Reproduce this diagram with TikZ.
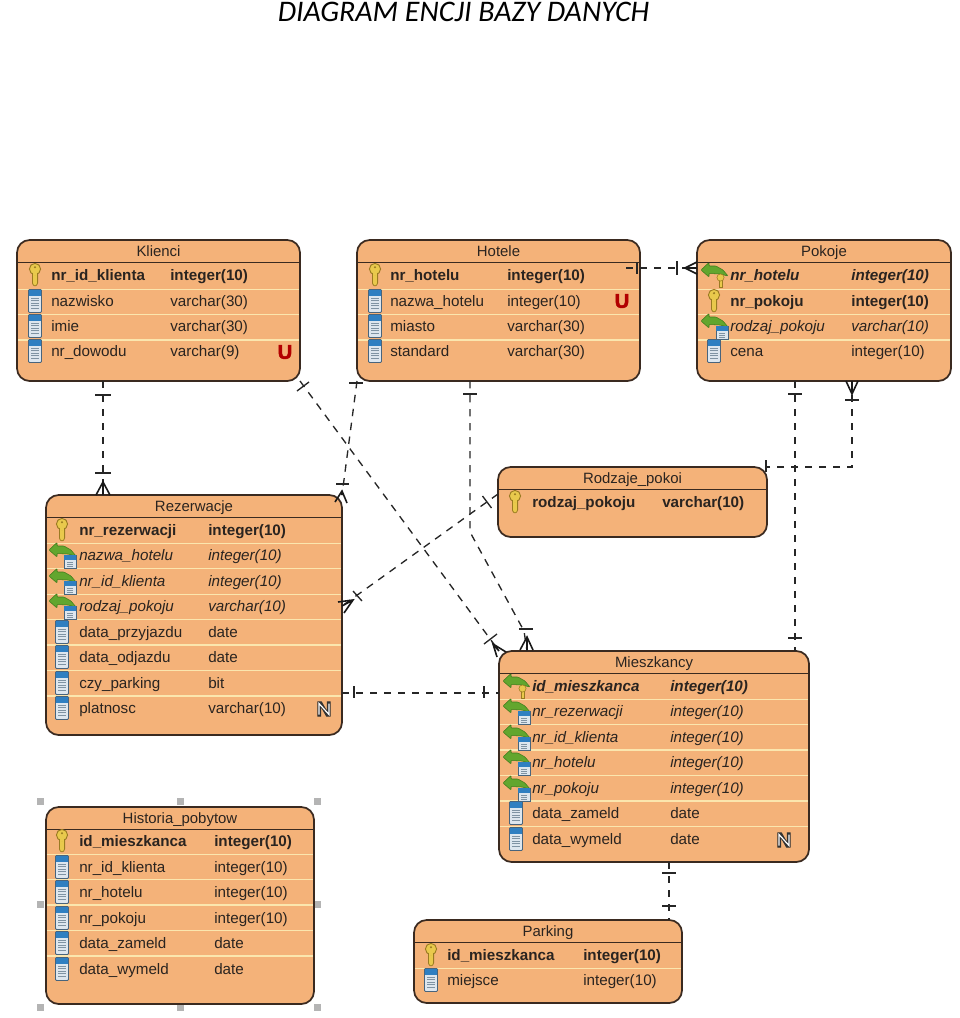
\documentclass[tikz,border=0pt]{standalone}
\usepackage{fontspec}
\setmainfont{Liberation Sans}
\newfontfamily\titlefont{Carlito}
\newfontfamily\badgefont[FakeBold=5]{Liberation Sans Bold}
\newfontfamily\ubadgefont[FakeBold=2.5]{Liberation Sans Bold}
\usetikzlibrary{calc}
\definecolor{boxfill}{HTML}{F4B279}
\definecolor{boxline}{HTML}{3A2A20}
\definecolor{sepline}{HTML}{FBE6AE}
\definecolor{inktext}{HTML}{2A2420}
\definecolor{keygold}{HTML}{E9C94C}
\definecolor{keydark}{HTML}{9A7B22}
\definecolor{fkgreen}{HTML}{62A62E}
\definecolor{fkdark}{HTML}{3E7A1C}
\definecolor{colblue}{HTML}{2F7FC1}
\definecolor{coldark}{HTML}{48647C}
\definecolor{colbody}{HTML}{DDE6EE}
\definecolor{handle}{HTML}{B4B4B4}
\newcommand{\pxu}{*.75pt}
\newcounter{rw}
\tikzset{
  tablebox/.style={draw=boxline,fill=boxfill,line width=1.3pt,rounded corners=9.5pt,
    inner sep=0pt,outer sep=0pt,anchor=north west},
  tabletitle/.style={font=\fontsize{11.2pt}{12pt}\selectfont,text=inktext,inner sep=0pt,anchor=base},
  celltext/.style={font=\fontsize{11.4pt}{12pt}\selectfont,text=inktext,inner sep=0pt,anchor=base west},
  conn/.style={draw=black!85,line width=1pt,dash pattern=on 5.6pt off 4.9pt},
  markline/.style={draw=black!85,line width=1pt},
  crowline/.style={draw=black!90,line width=1.2pt},
  keyicon/.pic={
    \draw[fill=keygold,draw=keydark,line width=.6pt,rounded corners=.8pt]
      (-2.6,-2)--(-2.6,9)--(0,11.5)--(2.6,9)--(2.6,-2)--cycle;
    \draw[fill=keygold,draw=keydark,line width=.7pt] (0,-6) circle[radius=5.6];
    \fill[keydark] (0,-7.8) circle[radius=1.2];
    \fill[keygold] (-2.1,-3) rectangle (2.1,0);
  },
  colicon/.pic={
    \draw[fill=colbody,draw=coldark,line width=.7pt,rounded corners=.8pt] (-6.5,-11.5) rectangle (6.5,11.5);
    \fill[colblue] (-6,-11) rectangle (6,-5.5);
    \foreach \q in {-3,-.5,2,4.5,7}{\draw[coldark!70,line width=.5pt] (-3.8,\q)--(3.8,\q);}
  },
  fkarrow/.pic={
    \draw[fill=fkgreen,draw=fkdark,line width=.4pt,rounded corners=.6pt]
      (-13,-5)--(-5,-12.5)--(-5,-9)--(2,-9)--(9,-5)--(14,1)--(6,-1)--(-5,-1.5)--(-5,2)--cycle;
  },
  fkcol/.pic={
    \pic at (0,0) {fkarrow};
    \draw[fill=colbody,draw=coldark,line width=.4pt] (2,0) rectangle (14,13);
    \fill[colblue] (2.3,.3) rectangle (13.7,4.5);
    \foreach \q in {7,9,11}{\draw[coldark!70,line width=.4pt] (5,\q)--(11,\q);}
  },
  fkkey/.pic={
    \pic at (0,0) {fkarrow};
    \draw[fill=keygold,draw=keydark,line width=.4pt] (5,3)--(5,12)--(8,12)--(8,3)--cycle;
    \draw[fill=keygold,draw=keydark,line width=.4pt] (6.5,2.5) circle[radius=3.6];
  },
}
% #1 name, #2 x1, #3 y1, #4 x2, #5 y2, #6 title, #7 separator list
\newcommand{\tablebox}[7]{%
  \pgfmathsetmacro{\bw}{(#4-#2)*.75}\pgfmathsetmacro{\bh}{(#5-#3)*.75}%
  \node[tablebox,minimum width=\bw pt,minimum height=\bh pt] (#1) at (#2,#3) {};
  \pgfmathsetmacro{\cx}{(#2+#4)/2}%
  \node[tabletitle] (#1-title) at (\cx,#3+16) {#6};
  \draw[boxline,line width=1.1pt] (#2,#3+22.5)--(#4,#3+22.5);
  \foreach \s in {#7}{\draw[sepline,line width=1pt] (#2+.8,\s)--(#4-.8,\s);}
}
% #1 y, #2 icon, #3 font, #4 name, #5 type
\newcommand{\rowat}[5]{%
  \pic at (\xi,#1) {#2};
  \stepcounter{rw}%
  \node[celltext,#3] (n\arabic{rw}) at (\xn,#1+5) {#4};
  \node[celltext,#3] (t\arabic{rw}) at (\xt,#1+5) {#5};
}
\newcommand{\badgeU}[2]{\node[inner sep=0pt,text=red!70!black,font=\ubadgefont\fontsize{15pt}{15pt}\selectfont] (#1) at #2 {U};}
\newcommand{\badgeN}[2]{%
  \node[inner sep=0pt,text=black!80,font=\badgefont\fontsize{15.5pt}{15.5pt}\selectfont] (#1) at #2 {N};
  \draw[white,line width=.9pt,shift={#2}] (-5,5.5)--(-5,-5.5)--(5,5.5)--(5,-5.5);
}
\newcommand{\barmark}[2]{\draw[markline] #1--#2;}
\newcommand{\crowfoot}[4]{\draw[crowline] #2--#1--#3 #1--#4;}
\tikzset{bold/.style={font=\fontsize{11.4pt}{12pt}\selectfont\bfseries},
  ital/.style={font=\fontsize{11.4pt}{12pt}\selectfont\itshape},
  bital/.style={font=\fontsize{11.4pt}{12pt}\selectfont\bfseries\itshape},
  plain/.style={}}
\begin{document}
\begin{tikzpicture}[x=.75pt,y=-.75pt]
\useasboundingbox (0,0) rectangle (960,1018);
\node[inner sep=0pt,anchor=base,font=\titlefont\itshape\fontsize{22.4pt}{24pt}\selectfont] (heading) at (463.5,21.5) {DIAGRAM ENCJI BAZY DANYCH};

% Klienci
\tablebox{klienci}{17}{240}{300}{381}{Klienci}{289.5,314.5,340}
\def\xi{35}\def\xn{51}\def\xt{170}
\rowat{275}{keyicon}{bold}{nr\_id\_klienta}{integer(10)}
\rowat{301}{colicon}{plain}{nazwisko}{varchar(30)}
\rowat{326}{colicon}{plain}{imie}{varchar(30)}
\rowat{351}{colicon}{plain}{nr\_dowodu}{varchar(9)}
\badgeU{uklienci}{(285,352)}

% Hotele
\tablebox{hotele}{357}{240}{640}{381}{Hotele}{289.5,314.5,340}
\def\xi{375}\def\xn{390}\def\xt{507}
\rowat{275}{keyicon}{bold}{nr\_hotelu}{integer(10)}
\rowat{301}{colicon}{plain}{nazwa\_hotelu}{integer(10)}
\rowat{326}{colicon}{plain}{miasto}{varchar(30)}
\rowat{351}{colicon}{plain}{standard}{varchar(30)}
\badgeU{uhotele}{(622,301)}

% Pokoje
\tablebox{pokoje}{697}{240}{951}{381}{Pokoje}{289.5,314.5,340}
\def\xi{714}\def\xn{730}\def\xt{851}
\rowat{275}{fkkey}{bital}{nr\_hotelu}{integer(10)}
\rowat{301}{keyicon}{bold}{nr\_pokoju}{integer(10)}
\rowat{326}{fkcol}{ital}{rodzaj\_pokoju}{varchar(10)}
\rowat{351}{colicon}{plain}{cena}{integer(10)}

% Rodzaje_pokoi
\tablebox{rodzaje}{498}{467}{767}{537}{Rodzaje\_pokoi}{}
\def\xi{515}\def\xn{532}\def\xt{662}
\rowat{502}{keyicon}{bold}{rodzaj\_pokoju}{varchar(10)}

% Rezerwacje
\tablebox{rezerwacje}{46}{495}{342}{735}{Rezerwacje}{543.5,568.5,594.5,619.5,645,670.5,696}
\def\xi{62}\def\xn{79}\def\xt{208}
\rowat{530}{keyicon}{bold}{nr\_rezerwacji}{integer(10)}
\rowat{555}{fkcol}{ital}{nazwa\_hotelu}{integer(10)}
\rowat{581}{fkcol}{ital}{nr\_id\_klienta}{integer(10)}
\rowat{606}{fkcol}{ital}{rodzaj\_pokoju}{varchar(10)}
\rowat{632}{colicon}{plain}{data\_przyjazdu}{date}
\rowat{657}{colicon}{plain}{data\_odjazdu}{date}
\rowat{683}{colicon}{plain}{czy\_parking}{bit}
\rowat{708}{colicon}{plain}{platnosc}{varchar(10)}
\badgeN{nrezerwacje}{(324,709)}

% Mieszkancy
\tablebox{mieszkancy}{499}{651}{809}{862}{Mieszkancy}{699.5,724.5,750,775.5,801,826.5}
\def\xi{516}\def\xn{532}\def\xt{670}
\rowat{686}{fkkey}{bital}{id\_mieszkanca}{integer(10)}
\rowat{711}{fkcol}{ital}{nr\_rezerwacji}{integer(10)}
\rowat{737}{fkcol}{ital}{nr\_id\_klienta}{integer(10)}
\rowat{762}{fkcol}{ital}{nr\_hotelu}{integer(10)}
\rowat{788}{fkcol}{ital}{nr\_pokoju}{integer(10)}
\rowat{813}{colicon}{plain}{data\_zameld}{date}
\rowat{839}{colicon}{plain}{data\_wymeld}{date}
\badgeN{nmieszkancy}{(784,840)}

% Historia_pobytow
\foreach \hx/\hy in {40/801,180/801,317/801,40/904,317/904,40/1007,180/1007,317/1007}{
  \fill[handle] (\hx-3.5,\hy-3.5) rectangle (\hx+3.5,\hy+3.5);}
\tablebox{historia}{46}{807}{314}{1004}{Historia\_pobytow}{854.5,879.5,905,930.5,956}
\def\xi{62}\def\xn{79}\def\xt{214}
\rowat{841}{keyicon}{bold}{id\_mieszkanca}{integer(10)}
\rowat{867}{colicon}{plain}{nr\_id\_klienta}{integer(10)}
\rowat{892}{colicon}{plain}{nr\_hotelu}{integer(10)}
\rowat{918}{colicon}{plain}{nr\_pokoju}{integer(10)}
\rowat{943}{colicon}{plain}{data\_zameld}{date}
\rowat{969}{colicon}{plain}{data\_wymeld}{date}

% Parking
\tablebox{parking}{414}{920}{682}{1003}{Parking}{968.5}
\def\xi{431}\def\xn{447}\def\xt{583}
\rowat{955}{keyicon}{bold}{id\_mieszkanca}{integer(10)}
\rowat{980}{colicon}{plain}{miejsce}{integer(10)}

% Connectors
\coordinate (hm1) at (470,532);
\coordinate (hm2) at (524,631);
\draw[conn] ([xshift=86\pxu]klienci.south west) -- ([xshift=57\pxu]rezerwacje.north west);
\draw[conn] (klienci.south east) -- (mieszkancy.north west);
\draw[conn] (hotele.south west) -- (rezerwacje.north east);
\draw[conn] ([xshift=-14\pxu,yshift=-28\pxu]hotele.north east) -- ([yshift=-28\pxu]pokoje.north west);
\draw[conn] ([xshift=113\pxu]hotele.south west) -- (hm1) -- (hm2) -- ([xshift=28\pxu]mieszkancy.north west);
\draw[conn] ([xshift=98\pxu]pokoje.south west) -- ([xshift=296\pxu]mieszkancy.north west);
\draw[conn] ([xshift=155\pxu]pokoje.south west) |- (rodzaje.north east);
\draw[conn] ([yshift=-27\pxu]rodzaje.north west) -- ([yshift=-111\pxu]rezerwacje.north east);
\draw[conn] ([yshift=-198\pxu]rezerwacje.north east) -- ([yshift=-42\pxu]mieszkancy.north west);
\draw[conn] ([xshift=170\pxu]mieszkancy.south west) -- ([xshift=255\pxu]parking.north west);

% Cardinality marks
\barmark{(95,395)}{(111,395)}
\barmark{(95,473)}{(111,473)}
\crowfoot{(103,482)}{(96,495)}{(110,495)}{(103,495)}
\barmark{(297,391)}{(309,382)}
\barmark{(484,644)}{(497,634)}
\crowfoot{(493,644)}{(497,657)}{(506,652)}{(499,651)}
\barmark{(349,383)}{(363,383)}
\barmark{(336,484)}{(349,484)}
\crowfoot{(342,491)}{(335,502)}{(347,503)}{(342,495)}
\barmark{(637,262)}{(637,274)}
\barmark{(677,261)}{(677,275)}
\crowfoot{(685,268)}{(697,262)}{(697,274)}{(697,268)}
\barmark{(463,394)}{(477,394)}
\barmark{(519,629)}{(533,629)}
\crowfoot{(527,637)}{(520,650)}{(533,650)}{(527,650)}
\barmark{(788,394)}{(802,394)}
\barmark{(788,638)}{(802,638)}
\crowfoot{(852,394)}{(846,381)}{(858,381)}{(852,381)}
\barmark{(845,400)}{(859,400)}
\barmark{(766,460)}{(766,472)}
\barmark{(482.5,496)}{(491.5,508)}
\barmark{(353,591)}{(362,601)}
\crowfoot{(353,600)}{(338,602)}{(344,613)}{(342,606)}
\barmark{(354,686)}{(354,698)}
\barmark{(484,686)}{(484,698)}
\barmark{(662,873)}{(676,873)}
\barmark{(662,906)}{(676,906)}
\end{tikzpicture}
\end{document}
